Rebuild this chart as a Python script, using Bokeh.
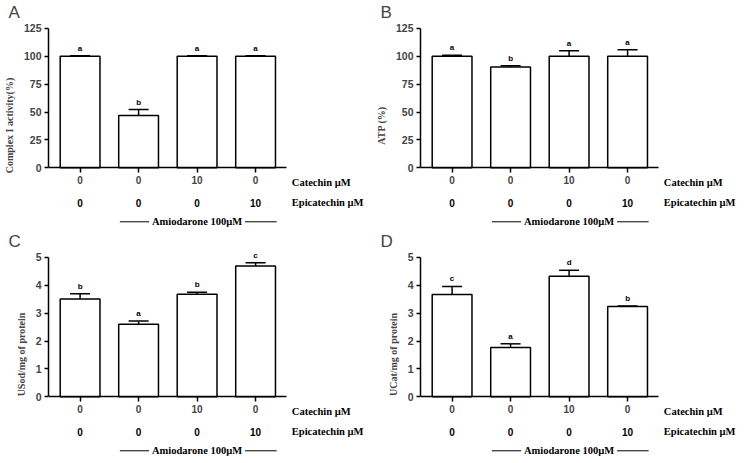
from bokeh.plotting import figure
from bokeh.layouts import gridplot
from bokeh.models import Range1d, LinearAxis, FixedTicker, Whisker, ColumnDataSource, TeeHead
from bokeh.core.properties import value
from bokeh.embed import file_html
from bokeh.resources import INLINE

# ---------------- data ----------------
catechin = ["0", "0", "10", "0"]
epicatechin = ["0", "0", "0", "10"]
row_names = ["Catechin \u00b5M", "Epicatechin \u00b5M"]
treatment = "Amiodarone 100\u00b5M"
panel_letters = ["A", "B", "C", "D"]
y_titles = ["Complex I activity(%)", "ATP (%)", "USod/mg of protein", "UCat/mg of protein"]
y_max = [125, 125, 5, 5]
y_ticks = [[0, 25, 50, 75, 100, 125], [0, 25, 50, 75, 100, 125], [0, 1, 2, 3, 4, 5], [0, 1, 2, 3, 4, 5]]

complex1_mean = [100, 47, 100, 100]
complex1_err = [0.6, 5.3, 0.6, 0.6]
complex1_sig = ["a", "b", "a", "a"]

atp_mean = [100, 90.5, 100, 100]
atp_err = [1.0, 1.0, 5.0, 6.0]
atp_sig = ["a", "b", "a", "a"]

sod_mean = [3.51, 2.60, 3.68, 4.69]
sod_err = [0.19, 0.12, 0.07, 0.12]
sod_sig = ["b", "a", "b", "c"]

cat_mean = [3.67, 1.77, 4.33, 3.24]
cat_err = [0.29, 0.13, 0.21, 0.02]
cat_sig = ["c", "a", "d", "b"]

means = [complex1_mean, atp_mean, sod_mean, cat_mean]
errs = [complex1_err, atp_err, sod_err, cat_err]
sigs = [complex1_sig, atp_sig, sod_sig, cat_sig]

SANS = value("Liberation Sans")
SERIF = value("Liberation Serif")

FRAME_W = 320
FRAME_H = 208
X0, X1 = 0.46, 5.93


def panel(k):
    ym = y_max[k]
    top = ym * 1.05
    bottom = -ym * 62.0 / 140.0
    upp = (top - bottom) / FRAME_H  # data units per pixel
    xs = [i + 1 for i in range(len(catechin))]

    p = figure(frame_width=FRAME_W, frame_height=FRAME_H, output_backend="svg",
               toolbar_location=None, x_range=Range1d(X0, X1), y_range=Range1d(bottom, top),
               x_axis_location=None, y_axis_location=None,
               min_border_left=40, min_border_right=4, min_border_top=0, min_border_bottom=0)
    p.grid.visible = False
    p.outline_line_color = None
    p.background_fill_color = "white"

    p.title.text = panel_letters[k]
    p.title.text_font = "Liberation Sans"
    p.title.text_font_style = "normal"
    p.title.text_font_size = "17px"
    p.title.offset = -40
    p.title.standoff = 0

    yax = LinearAxis(bounds=(0, ym), ticker=FixedTicker(ticks=y_ticks[k]))
    yax.axis_label = y_titles[k]
    yax.axis_label_text_font = "Liberation Serif"
    yax.axis_label_text_font_style = "bold"
    yax.axis_label_text_font_size = "10px"
    yax.axis_label_standoff = 6
    yax.major_label_text_font = "Liberation Sans"
    yax.major_label_text_font_style = "bold"
    yax.major_label_text_font_size = "10.5px"
    yax.major_label_standoff = 3
    yax.major_tick_in = 0
    yax.major_tick_out = 4
    yax.minor_tick_out = 0
    yax.minor_tick_in = 0
    yax.axis_line_width = 1.5
    yax.major_tick_line_width = 1.5
    p.add_layout(yax, "left")

    # x axis sits at y = 0; its tick labels are the catechin doses
    xax = LinearAxis(fixed_location=0, bounds=(X0, 4.53), ticker=FixedTicker(ticks=xs))
    xax.major_label_overrides = {x: c for x, c in zip(xs, catechin)}
    xax.major_label_text_font = "Liberation Sans"
    xax.major_label_text_font_style = "bold"
    xax.major_label_text_font_size = "10px"
    xax.major_label_standoff = 3
    xax.major_tick_in = 0
    xax.major_tick_out = 5
    xax.minor_tick_out = 0
    xax.minor_tick_in = 0
    xax.axis_line_width = 1.5
    xax.major_tick_line_width = 1.5
    p.add_layout(xax, "below")

    m = means[k]
    e = errs[k]
    upper = [a + b for a, b in zip(m, e)]
    src = ColumnDataSource(dict(x=xs, mean=m, upper=upper, sig=sigs[k]))

    p.vbar(x="x", top="mean", bottom=0, width=0.68, source=src,
           fill_color="white", line_color="black", line_width=1.5)
    w = Whisker(base="x", lower="mean", upper="upper", source=src, level="overlay",
                line_color="black", line_width=1.5, lower_head=None,
                upper_head=TeeHead(size=20, line_width=1.5, line_color="black"))
    p.add_layout(w)
    p.text(x="x", y="upper", text="sig", source=src, text_align="center",
           text_baseline="bottom", y_offset=-3, text_font=SANS,
           text_font_style="bold", text_font_size="8px", text_color="black")

    # treatment table below the axis
    y1 = -15 * upp
    y2 = -35 * upp
    y3 = -54 * upp
    p.text(x=xs, y=[y2] * len(xs), text=epicatechin, text_align="center", text_baseline="middle",
           text_font=SANS, text_font_style="bold", text_font_size="10px")
    p.text(x=[4.62, 4.62], y=[y1, y2], text=row_names, text_align="left", text_baseline="middle",
           text_font=SERIF, text_font_style="bold", text_font_size="10.5px")
    mid = (xs[1] + xs[-1]) / 2
    p.text(x=[mid], y=[y3], text=[treatment], text_align="center", text_baseline="middle",
           text_font=SERIF, text_font_style="bold", text_font_size="10.5px")
    p.segment(x0=[mid - 1.32, mid + 0.82], x1=[mid - 0.82, mid + 1.36], y0=[y3, y3], y1=[y3, y3],
              line_color="black", line_width=1)
    return p


plots = [panel(k) for k in range(4)]
grid = gridplot([[plots[0], plots[1]], [plots[2], plots[3]]], toolbar_location=None)

open("out.html", "w").write(file_html(grid, INLINE))
